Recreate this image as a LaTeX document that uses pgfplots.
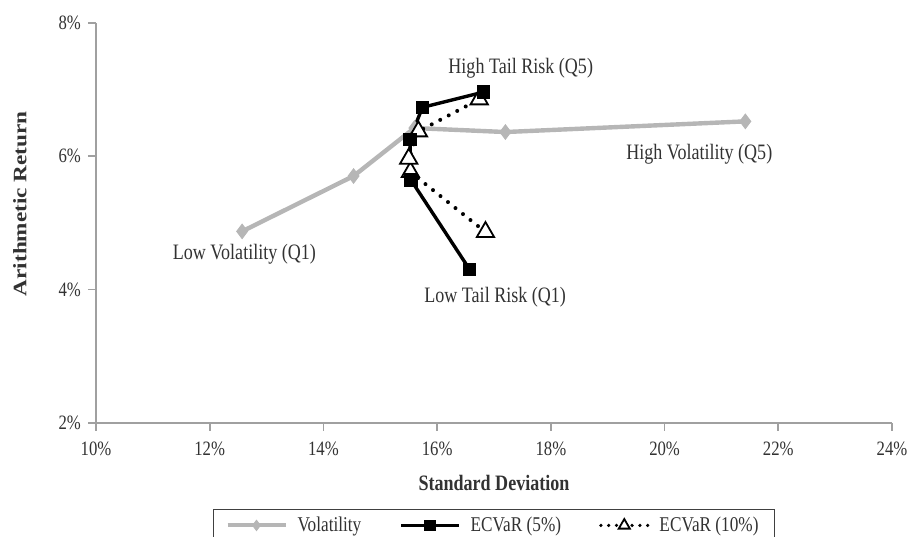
\documentclass[border=0pt]{standalone}
\usepackage{fontspec}
\setmainfont[FakeStretch=0.82]{Liberation Serif}
\newfontfamily\plainserif{Liberation Serif}
\usepackage{graphicx}
\usepackage{pgfplots}
\pgfplotsset{compat=1.18}
\pgfplotsset{
  longlegend/.style={legend image code/.code={\draw[mark repeat=2,mark phase=2,##1] plot coordinates {(0pt,0pt) (14.5pt,0pt) (29pt,0pt)};}},
  shortlegend/.style={legend image code/.code={\draw[mark repeat=2,mark phase=2,##1] plot coordinates {(0pt,0pt) (11.7pt,0pt) (23.4pt,0pt)};}},
}
\definecolor{volgray}{RGB}{182,182,182}
\definecolor{axgray}{RGB}{160,160,160}
\definecolor{txt}{RGB}{50,50,50}
\begin{document}
\begin{tikzpicture}
\begin{axis}[
  scale only axis, width=398pt, height=200pt,
  xmin=10, xmax=24, ymin=2, ymax=8,
  xtick={10,12,...,24}, ytick={2,4,6,8},
  axis lines=left,
  axis line style={-, draw=axgray, line width=0.8pt},
  tick style={draw=axgray, line width=0.8pt},
  tick align=outside, major tick length=4pt,
  /pgf/number format/assume math mode=true,
  xticklabel={\pgfmathprintnumber{\tick}\%},
  yticklabel={\pgfmathprintnumber{\tick}\%},
  ticklabel style={font=\fontsize{10.2}{12}\selectfont, text=txt},
  xticklabel style={yshift=-2pt},
  xlabel={Standard Deviation},
  ylabel={\scalebox{1}[0.82]{\plainserif\bfseries Arithmetic Return}},
  label style={font=\fontsize{11}{13}\selectfont\bfseries, text=txt},
  xlabel style={at={(axis description cs:0.5,-0.15)}, anchor=center},
  ylabel style={at={(axis description cs:-0.0955,0.5475)}, anchor=center, font=\fontsize{11.6}{13}\selectfont},
  clip=false,
  legend columns=3,
  legend style={at={(0.5,-0.2158)}, anchor=north, draw=black!75, line width=0.6pt,
    font=\fontsize{10.5}{12}\selectfont, text=txt, inner xsep=6pt, inner ysep=1.5pt,
    /tikz/every even column/.append style={column sep=17pt},
    /tikz/every odd column/.append style={column sep=3pt}},
  longlegend,
]
\coordinate (bl) at (rel axis cs:0,0);
\coordinate (tr) at (rel axis cs:1,1);
\addlegendimage{color=volgray, line width=2pt, mark=diamond*, mark size=2.6pt, mark options={solid, fill=volgray, draw=volgray, line width=0.4pt}}
\addlegendentry{Volatility}
\addlegendimage{color=black, line width=1.7pt, mark=square*, mark size=2.6pt, mark options={solid, fill=black, line width=0.4pt}}
\addlegendentry{ECVaR (5\%)}
\addlegendimage{shortlegend, color=black, line width=1.8pt, line cap=round, dash pattern=on 0pt off 3.9pt, mark=triangle*, mark size=3.2pt, mark options={solid, fill=white, draw=black, line width=0.9pt, line cap=butt}}
\addlegendentry{ECVaR (10\%)}
\addplot[forget plot, color=volgray, line width=2.2pt, mark=diamond*, mark size=3.6pt, mark options={solid, fill=volgray, draw=volgray, line width=0.5pt}]
  coordinates {(12.57,4.87) (14.53,5.70) (15.60,6.42) (17.20,6.36) (21.42,6.52)};
\addplot[forget plot, color=black, line width=2pt, line cap=round, dash pattern=on 0pt off 4.8pt, mark=triangle*, mark size=5pt, mark options={solid, fill=white, draw=black, line width=0.9pt, line cap=butt}]
  coordinates {(16.85,4.86) (15.53,5.76) (15.50,5.96) (15.67,6.37) (16.74,6.85)};
\addplot[forget plot, color=black, line width=1.7pt, mark=square*, mark size=3.1pt, mark options={solid, fill=black, line width=0.5pt}]
  coordinates {(16.57,4.30) (15.54,5.64) (15.52,6.25) (15.74,6.73) (16.82,6.96)};
\node[font=\fontsize{11}{13}\selectfont, text=txt] at (axis cs:17.47,7.32) {High Tail Risk (Q5)};
\node[font=\fontsize{11}{13}\selectfont, text=txt] at (axis cs:20.61,6.03) {High Volatility (Q5)};
\node[font=\fontsize{11}{13}\selectfont, text=txt] at (axis cs:12.61,4.52) {Low Volatility (Q1)};
\node[font=\fontsize{11}{13}\selectfont, text=txt] at (axis cs:17.02,3.885) {Low Tail Risk (Q1)};
\end{axis}
\pgfresetboundingbox
\path ([shift={(-48pt,-56.65pt)}]bl) rectangle ([shift={(10.5pt,11.35pt)}]tr);
\end{tikzpicture}
\end{document}
